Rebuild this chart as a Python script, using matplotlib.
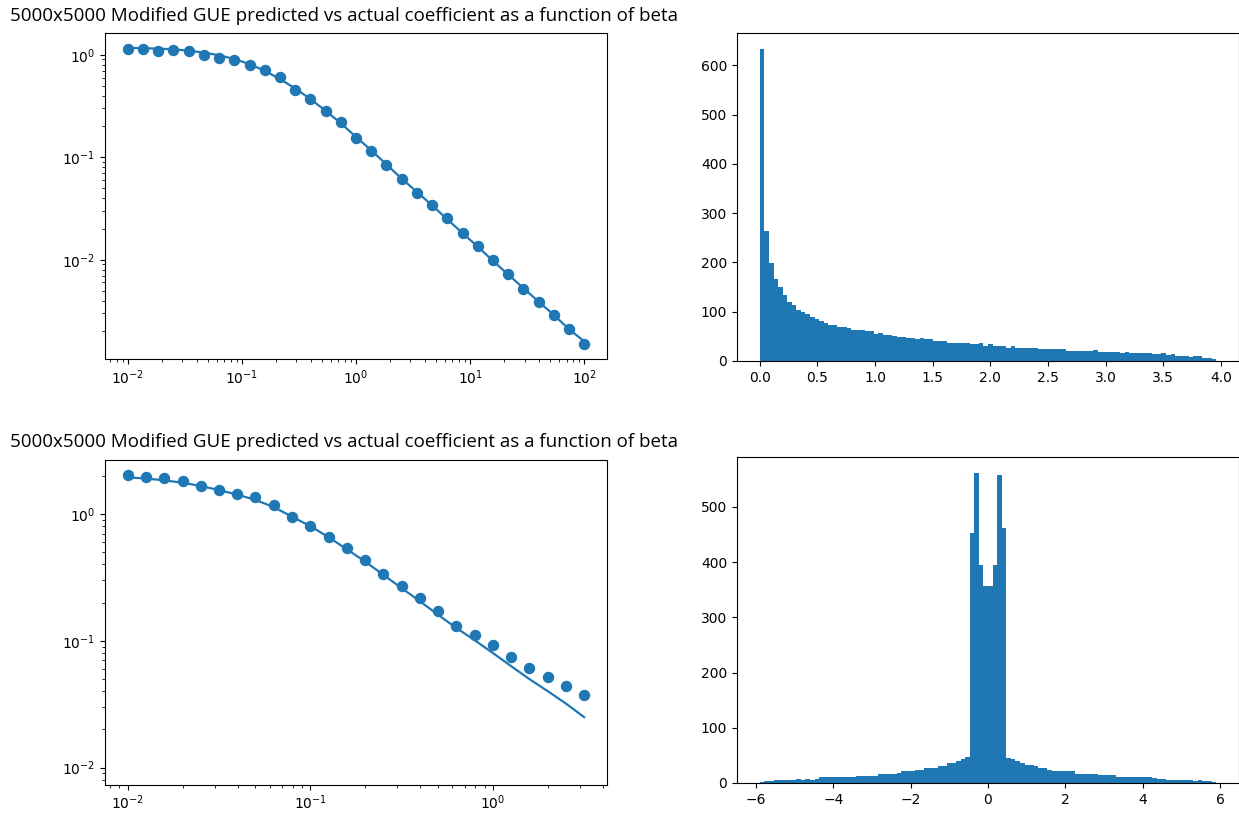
import numpy as np
import matplotlib
matplotlib.use("Agg")
import matplotlib.pyplot as plt

title = "5000x5000 Modified GUE predicted vs actual coefficient as a function of beta"

# ---------- top row: beta sweep 1e-2 .. 1e2 ----------
beta_top = [0.01, 0.0136, 0.0185, 0.0251, 0.0341, 0.0464, 0.0631, 0.0858,
            0.117, 0.158, 0.215, 0.293, 0.398, 0.541, 0.736, 1.0,
            1.36, 1.85, 2.51, 3.41, 4.64, 6.31, 8.58, 11.7, 15.8,
            21.5, 29.3, 39.8, 54.1, 73.6, 100.0]
actual_top = [1.14, 1.14, 1.10, 1.12, 1.08, 1.00, 0.93, 0.88, 0.79, 0.71,
              0.61, 0.45, 0.37, 0.28, 0.22, 0.154, 0.116, 0.084, 0.061,
              0.045, 0.034, 0.0254, 0.0182, 0.0135, 0.0099, 0.0072,
              0.0052, 0.0039, 0.0029, 0.0021, 0.0015]
pred_top = [1.17, 1.16, 1.15, 1.13, 1.10, 1.05, 0.99, 0.91, 0.81, 0.70,
            0.58, 0.47, 0.37, 0.285, 0.215, 0.158, 0.117, 0.085, 0.062,
            0.046, 0.034, 0.0248, 0.0182, 0.0134, 0.0098, 0.0072,
            0.0053, 0.0039, 0.0029, 0.0021, 0.0016]

# histogram 1: 100 bins over [0, 3.96]
hist1_range = (0.0, 3.96)
hist1_counts = [634, 263, 199, 166, 150, 133, 120, 114, 104, 99,
                95, 90, 86, 82, 78, 74, 74, 70, 70, 67,
                63, 63, 63, 60, 60, 54, 56, 52, 52, 50,
                48, 48, 46, 46, 44, 46, 44, 44, 40, 40,
                40, 37, 37, 37, 36, 37, 34, 34, 37, 31,
                34, 31, 31, 31, 27, 31, 27, 27, 27, 27,
                27, 24, 24, 24, 24, 24, 24, 20, 20, 20,
                20, 20, 20, 22, 19, 19, 19, 19, 19, 17,
                19, 16, 16, 16, 16, 16, 14, 14, 16, 12,
                14, 10, 10, 10, 8, 10, 10, 7, 6, 5]

# ---------- bottom row: beta sweep 1e-2 .. 10^0.5 ----------
beta_bot = [0.01, 0.0126, 0.0158, 0.02, 0.0251, 0.0316, 0.0398, 0.05,
            0.0631, 0.0794, 0.1, 0.126, 0.158, 0.2, 0.251, 0.316,
            0.398, 0.501, 0.631, 0.794, 1.0, 1.26, 1.58, 2.0, 2.51, 3.16]
actual_bot = [2.03, 1.97, 1.92, 1.82, 1.67, 1.545, 1.43, 1.35, 1.18, 0.94,
              0.80, 0.66, 0.54, 0.43, 0.337, 0.271, 0.217, 0.171, 0.131,
              0.111, 0.0924, 0.074, 0.0609, 0.052, 0.0442, 0.0376]
pred_bot = [1.94, 1.90, 1.84, 1.76, 1.66, 1.54, 1.42, 1.29, 1.13, 0.95,
            0.80, 0.655, 0.527, 0.42, 0.331, 0.26, 0.205, 0.16, 0.126,
            0.101, 0.080, 0.063, 0.050, 0.040, 0.032, 0.025]

# histogram 2: 100 bins over [-5.9, 5.9]
hist2_range = (-5.9, 5.9)
hist2_counts = [2, 3, 3, 5, 5, 5, 5, 5, 8, 5,
                8, 5, 8, 10, 10, 10, 10, 10, 10, 11,
                10, 13, 13, 13, 13, 13, 16, 16, 16, 16,
                18, 21, 21, 21, 23, 23, 27, 27, 28, 30,
                30, 36, 36, 39, 43, 47, 452, 562, 395, 357,
                357, 395, 557, 462, 46, 43, 39, 36, 33, 33,
                30, 27, 27, 24, 22, 22, 22, 22, 21, 17,
                17, 17, 17, 17, 14, 14, 15, 14, 11, 11,
                11, 11, 11, 11, 11, 11, 9, 8, 8, 6,
                6, 6, 6, 6, 6, 4, 6, 3, 3, 2]

W, H = 1239, 815
fig = plt.figure(figsize=(W / 100, H / 100), dpi=100)


def px_axes(x0, y0, x1, y1):
    # pixel box (top-left origin) -> figure axes
    return fig.add_axes([x0 / W, 1 - y1 / H, (x1 - x0) / W, (y1 - y0) / H])


ax1 = px_axes(105, 33, 607, 359)
ax2 = px_axes(737, 33, 1239, 361)
ax3 = px_axes(105, 460, 607, 785)
ax4 = px_axes(737, 457, 1239, 783)

# top-left
ax1.plot(beta_top, pred_top, color="C0", lw=1.6)
ax1.scatter(beta_top, actual_top, color="C0", s=52, zorder=3)
ax1.set_xscale("log")
ax1.set_yscale("log")

# top-right
edges1 = np.linspace(hist1_range[0], hist1_range[1], len(hist1_counts) + 1)
ax2.hist(edges1[:-1], bins=edges1, weights=hist1_counts, color="C0")

# bottom-left
ax3.plot(beta_bot, pred_bot, color="C0", lw=1.6)
ax3.scatter(beta_bot, actual_bot, color="C0", s=52, zorder=3)
ax3.set_xscale("log")
ax3.set_yscale("log")
ax3.set_ylim(0.0073, 2.66)

# bottom-right
edges2 = np.linspace(hist2_range[0], hist2_range[1], len(hist2_counts) + 1)
ax4.hist(edges2[:-1], bins=edges2, weights=hist2_counts, color="C0")

for ax in (ax1, ax2, ax3, ax4):
    ax.tick_params(labelsize=10)
ax3.tick_params(axis="x", pad=2.5)

fig.text(10 / W, 1 - 16 / H, title, ha="left", va="center",
         fontsize=13.5, family="Open Sans")
fig.text(10 / W, 1 - 442 / H, title, ha="left", va="center",
         fontsize=13.5, family="Open Sans")

fig.savefig("out.png", dpi=100)
